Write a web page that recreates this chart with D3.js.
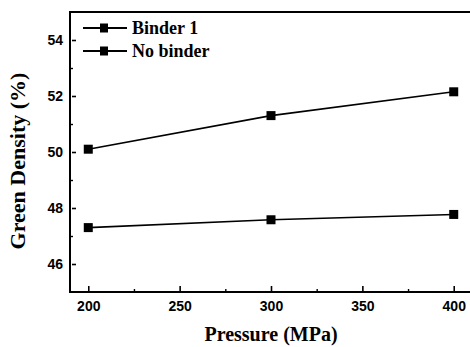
<!DOCTYPE html>
<html><head><meta charset="utf-8">
<script src="https://cdn.jsdelivr.net/npm/d3@7"></script>
<style>body{margin:0;background:#fff}</style>
</head><body>
<svg id="c" width="470" height="347"></svg>
<script>
const pressures = [200, 300, 400];
const binder1 = [50.1, 51.3, 52.15];
const noBinder = [47.3, 47.58, 47.77];
const seriesNames = ["Binder 1", "No binder"];
const xTicks = [200, 250, 300, 350, 400];
const yTicks = [46, 48, 50, 52, 54];

const svg = d3.select("#c");
const m = {l: 70, t: 12, r: 472, b: 292};
const x = d3.scaleLinear().domain([190, 410]).range([m.l, m.r]);
const y = d3.scaleLinear().domain([45, 55]).range([m.b, m.t]);

// frame
svg.append("path")
  .attr("d", `M${m.l},${m.t}H${m.r}V${m.b}H${m.l}Z`)
  .attr("fill", "none").attr("stroke", "#000").attr("stroke-width", 2);

const sans = "Liberation Sans, Arial, sans-serif";
const serif = "Liberation Serif, Times New Roman, serif";

// x axis
const xa = svg.append("g").attr("transform", `translate(0,${m.b})`)
  .call(d3.axisBottom(x).tickValues(xTicks).tickSize(-6).tickPadding(9).tickFormat(d3.format("d")));
xa.select(".domain").remove();
xa.selectAll("line").attr("stroke-width", 1.6);
xa.selectAll("text").attr("font-family", sans).attr("font-weight", "bold").attr("font-size", 14);
const xm = svg.append("g").attr("transform", `translate(0,${m.b})`)
  .call(d3.axisBottom(x).tickValues([225, 275, 325, 375]).tickSize(-3).tickFormat(""));
xm.select(".domain").remove();
xm.selectAll("line").attr("stroke-width", 1.4);

// y axis
const ya = svg.append("g").attr("transform", `translate(${m.l},0)`)
  .call(d3.axisLeft(y).tickValues(yTicks).tickSize(-6).tickPadding(7).tickFormat(d3.format("d")));
ya.select(".domain").remove();
ya.selectAll("line").attr("stroke-width", 1.6).attr("x1", 2);
ya.selectAll("text").attr("font-family", sans).attr("font-weight", "bold").attr("font-size", 14);
const ym = svg.append("g").attr("transform", `translate(${m.l},0)`)
  .call(d3.axisLeft(y).tickValues([47, 49, 51, 53]).tickSize(-3).tickFormat(""));
ym.select(".domain").remove();
ym.selectAll("line").attr("stroke-width", 1.4);

// axis titles
svg.append("text").attr("x", 271).attr("y", 341).attr("text-anchor", "middle")
  .attr("font-family", serif).attr("font-weight", "bold").attr("font-size", 20)
  .text("Pressure (MPa)");
svg.append("text").attr("transform", "translate(25,161) rotate(-90)").attr("text-anchor", "middle")
  .attr("font-family", serif).attr("font-weight", "bold").attr("font-size", 22)
  .text("Green Density (%)");

// series
const line = d3.line().x(d => x(d[0])).y(d => y(d[1]));
[binder1, noBinder].forEach(vals => {
  const pts = pressures.map((p, i) => [p, vals[i]]);
  svg.append("path").attr("d", line(pts)).attr("fill", "none").attr("stroke", "#000").attr("stroke-width", 1.6);
  svg.selectAll(null).data(pts).enter().append("rect")
    .attr("x", d => x(d[0]) - 4.5).attr("y", d => y(d[1]) - 4.5)
    .attr("width", 9).attr("height", 9).attr("fill", "#000");
});

// legend
seriesNames.forEach((name, i) => {
  const ly = 28 + i * 23;
  svg.append("line").attr("x1", 83).attr("x2", 127).attr("y1", ly).attr("y2", ly).attr("stroke", "#000").attr("stroke-width", 1.8);
  svg.append("rect").attr("x", 100).attr("y", ly - 4.5).attr("width", 8).attr("height", 9).attr("fill", "#000");
  svg.append("text").attr("x", 132).attr("y", ly + 6)
    .attr("font-family", serif).attr("font-weight", "bold").attr("font-size", 18)
    .text(name);
});
</script>
</body></html>
